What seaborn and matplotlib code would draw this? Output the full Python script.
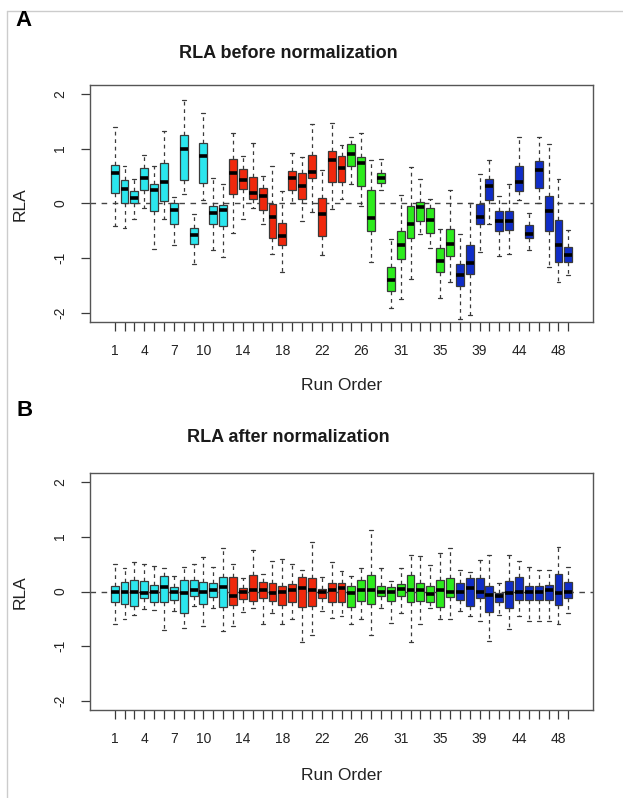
import numpy as np
import pandas as pd
import matplotlib
matplotlib.use("Agg")
import matplotlib.pyplot as plt
from matplotlib.lines import Line2D
import seaborn as sns

# ---------------- data ----------------
run_order = list(range(1, 28)) + list(range(29, 41)) + list(range(42, 50))   # 47 runs
batch = ["1"] * 12 + ["2"] * 12 + ["3"] * 11 + ["4"] * 12
batch_colors = {"1": "#2BE6EE", "2": "#F0280C", "3": "#2CEC1C", "4": "#0F2DC8"}
shown_labels = [1, 4, 7, 10, 14, 18, 22, 26, 31, 35, 39, 44, 48]

# RLA before normalization: whisker low, Q1, median, Q3, whisker high
before_low = [-0.41, -0.45, -0.28, -0.08, -0.83, -0.28, -0.75, 0.18, -1.10, 0.06, -0.85, -0.98,
              -0.53, -0.28, -0.08, -0.38, -0.92, -1.25, 0.00, -0.32, -0.16, -0.94, -0.10, 0.08,
              0.36, -0.04, -1.07, 0.25, -1.90, -1.74, -1.37, -0.56, -0.82, -1.72, -1.44,
              -2.10, -2.03, -0.88, -0.38, -0.95, -0.92, 0.07, -0.84, 0.01, -1.16, -1.43, -1.31]
before_q1 = [0.20, 0.00, 0.00, 0.25, -0.13, 0.05, -0.37, 0.43, -0.73, 0.38, -0.37, -0.41,
             0.17, 0.26, 0.08, -0.12, -0.62, -0.76, 0.25, 0.08, 0.47, -0.59, 0.40, 0.39,
             0.68, 0.32, -0.50, 0.38, -1.60, -1.01, -0.62, -0.32, -0.54, -1.24, -0.95,
             -1.50, -1.28, -0.38, 0.06, -0.50, -0.48, 0.22, -0.62, 0.29, -0.50, -1.07, -1.06]
before_med = [0.56, 0.26, 0.10, 0.47, 0.24, 0.39, -0.12, 0.99, -0.58, 0.86, -0.17, -0.12,
              0.56, 0.43, 0.20, 0.14, -0.24, -0.59, 0.47, 0.31, 0.58, -0.19, 0.79, 0.64,
              0.90, 0.74, -0.26, 0.46, -1.39, -0.76, -0.38, -0.06, -0.30, -1.04, -0.74,
              -1.31, -1.08, -0.25, 0.31, -0.32, -0.32, 0.39, -0.55, 0.61, -0.14, -0.75, -0.94]
before_q3 = [0.71, 0.42, 0.22, 0.64, 0.36, 0.73, 0.00, 1.24, -0.45, 1.10, -0.04, -0.02,
             0.82, 0.62, 0.49, 0.28, -0.01, -0.36, 0.59, 0.55, 0.88, 0.10, 0.95, 0.87,
             1.08, 0.84, 0.25, 0.56, -1.16, -0.51, -0.05, 0.02, -0.09, -0.82, -0.46,
             -1.10, -0.75, -0.01, 0.44, -0.14, -0.13, 0.69, -0.40, 0.77, 0.13, -0.30, -0.79]
before_high = [1.39, 0.68, 0.44, 0.88, 0.69, 1.33, 0.12, 1.89, -0.20, 1.65, 0.46, 0.35,
               1.29, 0.86, 1.10, 0.50, 0.68, 0.22, 0.92, 0.84, 1.45, 0.61, 1.47, 1.06,
               1.21, 1.29, 0.79, 0.82, -0.64, 0.16, 0.66, 0.45, 0.08, -0.47, 0.25,
               -0.56, 0.00, 0.54, 0.80, 0.13, 0.36, 1.21, -0.17, 1.21, 1.09, 0.45, -0.48]

# RLA after normalization
after_low = [-0.59, -0.51, -0.42, -0.32, -0.33, -0.71, -0.36, -0.66, -0.27, -0.62, -0.30, -0.72,
             -0.63, -0.38, -0.30, -0.59, -0.40, -0.59, -0.51, -0.92, -0.80, -0.36, -0.48, -0.45,
             -0.60, -0.50, -0.79, -0.30, -0.57, -0.40, -0.92, -0.59, -0.30, -0.50, -0.51,
             -0.36, -0.45, -0.54, -0.91, -0.42, -0.68, -0.45, -0.53, -0.53, -0.53, -0.60, -0.40]
after_q1 = [-0.19, -0.23, -0.26, -0.12, -0.20, -0.20, -0.15, -0.39, -0.09, -0.22, -0.10, -0.28,
            -0.24, -0.14, -0.18, -0.12, -0.18, -0.24, -0.20, -0.28, -0.27, -0.12, -0.20, -0.20,
            -0.28, -0.18, -0.22, -0.09, -0.18, -0.09, -0.20, -0.18, -0.20, -0.28, -0.10,
            -0.16, -0.27, -0.12, -0.38, -0.19, -0.30, -0.16, -0.16, -0.15, -0.16, -0.24, -0.11]
after_med = [0.00, 0.00, 0.00, -0.02, 0.00, 0.09, 0.00, -0.03, 0.02, 0.00, 0.02, 0.09,
             -0.08, 0.00, 0.02, 0.02, -0.02, 0.00, 0.02, 0.06, 0.02, -0.01, 0.02, 0.06,
             -0.02, 0.02, 0.03, 0.00, 0.00, 0.04, 0.03, 0.02, -0.04, 0.02, 0.00,
             0.00, 0.06, 0.00, -0.06, -0.08, -0.03, 0.00, 0.00, 0.00, 0.02, -0.02, 0.00]
after_q3 = [0.10, 0.18, 0.21, 0.19, 0.11, 0.29, 0.08, 0.21, 0.21, 0.18, 0.15, 0.26,
            0.26, 0.06, 0.30, 0.17, 0.16, 0.10, 0.14, 0.27, 0.25, 0.05, 0.15, 0.15,
            0.10, 0.21, 0.30, 0.10, 0.08, 0.14, 0.30, 0.15, 0.10, 0.21, 0.24,
            0.15, 0.24, 0.24, 0.10, -0.02, 0.19, 0.27, 0.10, 0.10, 0.12, 0.32, 0.18]
after_high = [0.50, 0.43, 0.53, 0.50, 0.47, 0.42, 0.28, 0.44, 0.50, 0.62, 0.45, 0.80,
              0.50, 0.24, 0.75, 0.32, 0.56, 0.59, 0.50, 0.39, 0.91, 0.27, 0.53, 0.37,
              0.28, 0.42, 1.12, 0.42, 0.19, 0.42, 0.66, 0.65, 0.48, 0.71, 0.79,
              0.39, 0.36, 0.57, 0.66, 0.15, 0.66, 0.56, 0.45, 0.40, 0.40, 0.82, 0.45]

# ---------------- build long-form tables ----------------
run_labels = [str(r) for r in run_order]
palette = {lab: batch_colors[b] for lab, b in zip(run_labels, batch)}


def make_df(low, q1, med, q3, high):
    rows = []
    for lab, vals in zip(run_labels, zip(low, q1, med, q3, high)):
        for v in vals:
            rows.append({"run": lab, "RLA": v})
    return pd.DataFrame(rows)


df_before = make_df(before_low, before_q1, before_med, before_q3, before_high)
df_after = make_df(after_low, after_q1, after_med, after_q3, after_high)

# ---------------- figure ----------------
sns.set_theme(style="white")
plt.rcParams["font.family"] = ["Liberation Sans", "DejaVu Sans"]

W, H = 623, 798
fig = plt.figure(figsize=(W / 100, H / 100), dpi=100)


def px_axes(left, top, right, bottom):
    return fig.add_axes([left / W, 1 - bottom / H, (right - left) / W, (bottom - top) / H])


ax_a = px_axes(90, 85, 593, 322)
ax_b = px_axes(90, 473, 593, 710)

edge = "#3a3a3a"
for ax, df in ((ax_a, df_before), (ax_b, df_after)):
    ax.axhline(0, color="#444444", lw=1.0, ls=(0, (4, 4)), zorder=0)
    sns.boxplot(data=df, x="run", y="RLA", hue="run", order=run_labels, hue_order=run_labels,
                palette=palette, legend=False, dodge=False, whis=(0, 100), width=0.8,
                saturation=1, linecolor=edge, linewidth=0.9, ax=ax,
                medianprops=dict(color="black", linewidth=2.6),
                whiskerprops=dict(linestyle=(0, (3, 3)), color=edge, linewidth=0.9),
                capprops=dict(color=edge, linewidth=0.9))
    ax.set_xlim(-2.5, 48.5)
    ax.set_ylim(-2.16, 2.16)
    ax.set_xlabel("")
    ax.set_ylabel("")
    ax.set_xticks(range(len(run_labels)))
    ax.set_xticklabels([lab if int(lab) in shown_labels else "" for lab in run_labels])
    ax.set_yticks([-2, -1, 0, 1, 2])
    ax.set_yticklabels(["-2", "-1", "0", "1", "2"], rotation=90, va="center")
    ax.tick_params(axis="both", direction="out", length=6.5, width=0.9, color=edge,
                   labelsize=10, labelcolor="#222222")
    ax.tick_params(axis="x", pad=9)
    ax.tick_params(axis="y", pad=10)
    ax.tick_params(bottom=True, left=True)
    for sp in ax.spines.values():
        sp.set_visible(True)
        sp.set_color("#555555")
        sp.set_linewidth(1.0)

# texts
def ftext(x, y, s, **kw):
    fig.text(x / W, 1 - y / H, s, **kw)

ftext(24, 20, "A", fontsize=16, fontweight="bold", ha="center", va="center", color="black")
ftext(25, 410, "B", fontsize=16, fontweight="bold", ha="center", va="center", color="black")
ftext(288, 53, "RLA before normalization", fontsize=13, fontweight="bold", ha="center", va="center", color="#1a1a1a")
ftext(288, 438, "RLA after normalization", fontsize=13, fontweight="bold", ha="center", va="center", color="#1a1a1a")
ftext(342, 386, "Run Order", fontsize=12.5, ha="center", va="center", color="#222222")
ftext(342, 775, "Run Order", fontsize=12.5, ha="center", va="center", color="#222222")
ftext(20, 204, "RLA", fontsize=12.5, rotation=90, ha="center", va="center", color="#222222")
ftext(20, 592, "RLA", fontsize=12.5, rotation=90, ha="center", va="center", color="#222222")

# thin frame lines of the original figure
fig.add_artist(Line2D([7 / W, 7 / W], [0, 1 - 11 / H], transform=fig.transFigure, color="#cccccc", lw=1))
fig.add_artist(Line2D([7 / W, 1], [1 - 11 / H, 1 - 11 / H], transform=fig.transFigure, color="#cccccc", lw=1))

fig.savefig("out.png", dpi=100, facecolor="white")
